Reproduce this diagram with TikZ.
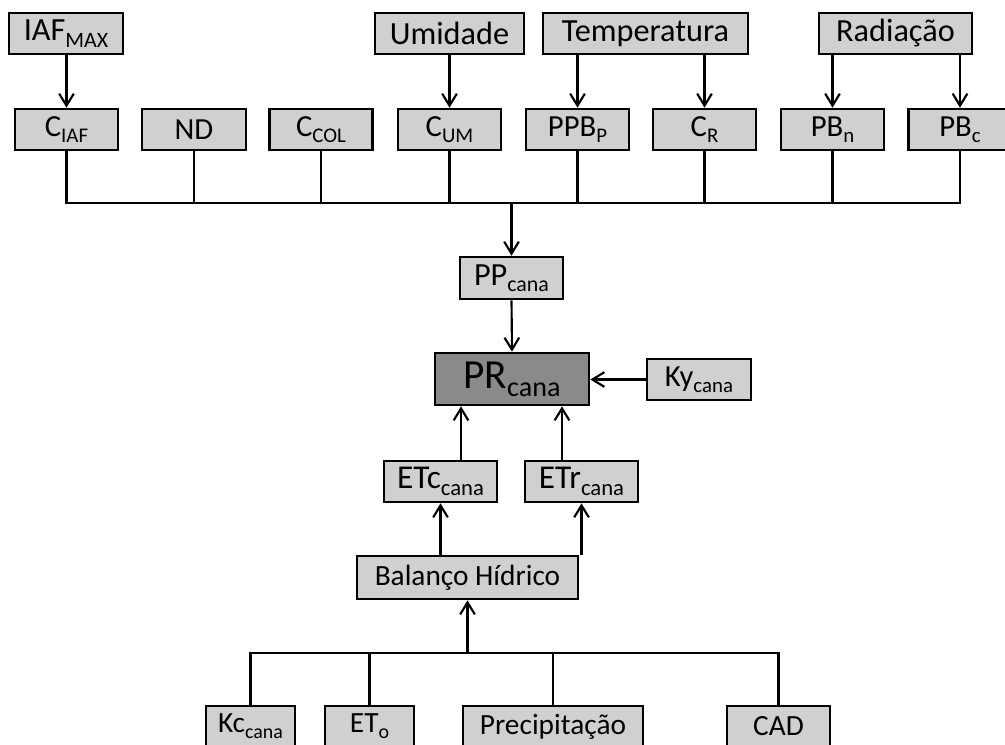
\documentclass[tikz,border=0pt]{standalone}
\usepackage{fontspec}
\usepackage{graphicx}
\setmainfont{Carlito}
\usetikzlibrary{arrows.meta}
\definecolor{boxfill}{HTML}{D0D0D0}
\definecolor{darkfill}{HTML}{8A8A8A}
\newcommand{\lowsub}[1]{\raisebox{-0.2em}{\scalebox{0.68}{#1}}}
\tikzset{
  bx/.style={draw=black, line width=2pt, fill=boxfill, inner sep=0pt,
    minimum height=30.75pt, anchor=center, align=center},
  ftop/.style={font=\fontsize{24.2}{27}\selectfont},
  fmid/.style={font=\fontsize{23}{26}\selectfont},
  fbot/.style={font=\fontsize{22}{25}\selectfont},
  ln/.style={line width=1.6pt},
  arr/.style={line width=1.6pt, -{Straight Barb[length=9pt,width=11pt,line width=1.6pt]}},
}
\begin{document}
\begin{tikzpicture}[x=0.75pt,y=-0.75pt]
\useasboundingbox (0,0) rectangle (1005,744);
% top row
\node[bx,ftop,minimum width=85.5pt] (IAF) at (66,33.5) {IAF\lowsub{MAX}};
\node[bx,ftop,minimum width=111.75pt] (Umi) at (449.5,33.5) {Umidade};
\node[bx,ftop,minimum width=153.75pt] (Temp) at (645.5,33.5) {Temperatura};
\node[bx,ftop,minimum width=114.75pt] (Rad) at (895.5,33.5) {Radiação};
% second row
\node[bx,fmid,minimum width=77.25pt] (CIAF) at (66.5,129.5) {C\lowsub{IAF}};
\node[bx,fmid,minimum width=78pt] (ND) at (194,129.5) {ND};
\node[bx,fmid,minimum width=77.25pt] (CCOL) at (321,129.5) {C\lowsub{COL}};
\node[bx,fmid,minimum width=77.25pt] (CUM) at (449.5,129.5) {C\lowsub{UM}};
\node[bx,fmid,minimum width=77.25pt] (PPBP) at (577.5,129.5) {PPB\lowsub{P}};
\node[bx,fmid,minimum width=77.25pt] (CR) at (704.5,129.5) {C\lowsub{R}};
\node[bx,fmid,minimum width=77.25pt] (PBn) at (832.5,129.5) {PB\lowsub{n}};
\node[bx,fmid,minimum width=77.25pt] (PBc) at (960,129.5) {PB\lowsub{c}};
% middle
\node[bx,ftop,minimum width=77.25pt,minimum height=31.5pt] (PP) at (511.5,278) {PP\lowsub{cana}};
\node[bx,font=\fontsize{31}{34}\selectfont,fill=darkfill,minimum width=115.5pt,minimum height=39pt] (PR) at (512,379) {PR\lowsub{cana}};
\node[bx,fmid,minimum width=78pt] (Ky) at (699,379.5) {Ky\lowsub{cana}};
\node[bx,font=\fontsize{25}{28}\selectfont,minimum width=84.75pt] (ETc) at (440.5,481.5) {ETc\lowsub{cana}};
\node[bx,font=\fontsize{25}{28}\selectfont,minimum width=84.75pt] (ETr) at (581.5,481.5) {ETr\lowsub{cana}};
\node[bx,fbot,minimum width=165.75pt,minimum height=32.25pt] (Bal) at (467.5,577.5) {Balanço Hídrico};
% bottom row
\node[bx,fbot,minimum width=66.75pt] (Kc) at (250.5,726.5) {Kc\lowsub{cana}};
\node[bx,fbot,minimum width=66.75pt] (ETo) at (369.5,726.5) {ET\lowsub{o}};
\node[bx,fbot,minimum width=135pt] (Prec) at (553,726.5) {Precipitação};
\node[bx,fbot,minimum width=77.25pt] (CAD) at (778.5,726.5) {CAD};
% coordinates
\coordinate (bus) at (512,203);
\coordinate (bbus) at (467,653);
\coordinate (a1) at (461,0);
\coordinate (a2) at (562,0);
% top arrows
\draw[arr] (IAF.south -| CIAF.north) -- (CIAF.north);
\draw[arr] (Umi.south -| CUM.north) -- (CUM.north);
\draw[arr] (Temp.south -| PPBP.north) -- (PPBP.north);
\draw[arr] (Temp.south -| CR.north) -- (CR.north);
\draw[arr] (Rad.south -| PBn.north) -- (PBn.north);
\draw[arr] (Rad.south -| PBc.north) -- (PBc.north);
% bus
\draw[ln] (CIAF.south) -- (CIAF.south |- bus) -- (PBc.south |- bus) -- (PBc.south);
\foreach \n in {ND,CCOL,CUM,PPBP,CR,PBn} \draw[ln] (\n.south) -- (\n.south |- bus);
\draw[arr] (PP.north |- bus) -- (PP.north);
% middle arrows
\draw[arr] (PP.south) -- (PR.north);
\draw[arr] (Ky.west) -- (Ky.west -| PR.east);
\draw[arr] (ETc.north -| a1) -- (PR.south -| a1);
\draw[arr] (ETr.north -| a2) -- (PR.south -| a2);
\draw[arr] (Bal.north -| ETc.south) -- (ETc.south);
\draw[arr] (Bal.north -| ETr.south) -- (ETr.south);
% bottom bus
\draw[ln] (Kc.north) -- (Kc.north |- bbus) -- (CAD.north |- bbus) -- (CAD.north);
\draw[ln] (ETo.north) -- (ETo.north |- bbus);
\draw[ln] (Prec.north) -- (Prec.north |- bbus);
\draw[arr] (Bal.south |- bbus) -- (Bal.south);
\end{tikzpicture}
\end{document}
